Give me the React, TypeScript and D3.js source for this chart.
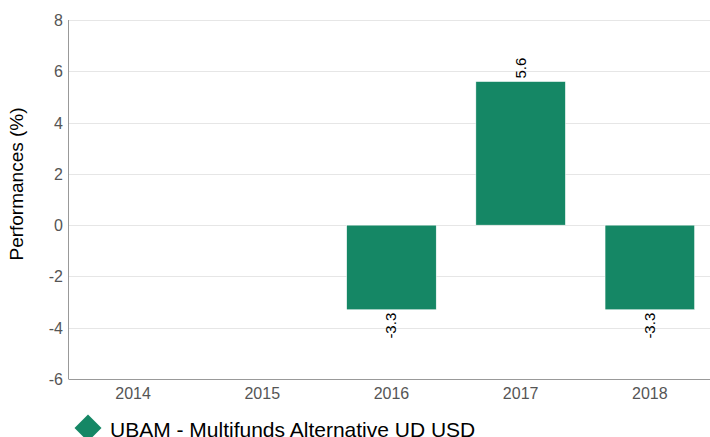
import React from "react";
import * as d3 from "d3";

const categories = ["2014", "2015", "2016", "2017", "2018"];
const values: (number | null)[] = [null, null, -3.3, 5.6, -3.3];
const yTicks = [-6, -4, -2, 0, 2, 4, 6, 8];
const seriesName = "UBAM - Multifunds Alternative UD USD";
const yTitle = "Performances (%)";

const W = 710;
const H = 437;
const left = 68.5;
const right = 714.4;
const top = 20;
const bottom = 379;
const color = "#158765";
const font = "'Liberation Sans', Arial, sans-serif";

export default function App() {
  const x = d3.scaleBand().domain(categories).range([left, right]).paddingInner(0.307).paddingOuter(0.1535);
  const y = d3.scaleLinear().domain([-6, 8]).range([bottom, top]);
  const xc = d3.scaleBand().domain(categories).range([left, right]);

  const mx = 88;
  const my = 428;
  const mr = 13.5;
  const diamond = d3.line()([
    [mx, my - mr],
    [mx + mr, my],
    [mx, my + mr],
    [mx - mr, my],
  ]) + "Z";

  return (
    <svg width={W} height={H} style={{ position: "absolute", left: 0, top: 0, fontFamily: font }}>
      <rect width={W} height={H} fill="#fff" />
      {yTicks.map((t) => (
        <g key={t}>
          {t !== -6 && (
            <line x1={left} x2={W} y1={Math.round(y(t)) + 0.5} y2={Math.round(y(t)) + 0.5} stroke="#e6e6e6" />
          )}
          <text x={63} y={y(t) + 6} textAnchor="end" fontSize={16} fill="#555">
            {t}
          </text>
        </g>
      ))}
      <line x1={left} x2={left} y1={top} y2={bottom} stroke="#999" />
      <line x1={left} x2={W} y1={bottom + 0.5} y2={bottom + 0.5} stroke="#999" />
      {categories.map((c) => (
        <text key={c} x={(xc(c) as number) + xc.bandwidth() / 2} y={bottom + 20} textAnchor="middle" fontSize={16} fill="#555">
          {c}
        </text>
      ))}
      {categories.map((c, i) => {
        const v = values[i];
        if (v === null) return null;
        const x0 = x(c) as number;
        const y0 = Math.min(y(0), y(v));
        const h = Math.abs(y(v) - y(0));
        const cx = x0 + x.bandwidth() / 2;
        const ly = v >= 0 ? y(v) - 3 : y(v) + 3;
        return (
          <g key={c}>
            <rect x={x0} y={y0} width={x.bandwidth()} height={h} fill={color} stroke="#fff" strokeWidth={0.5} />
            <text
              transform={`translate(${cx + 5},${ly}) rotate(-90)`}
              textAnchor={v >= 0 ? "start" : "end"}
              fontSize={15}
              fill="#000"
            >
              {v.toFixed(1)}
            </text>
          </g>
        );
      })}
      <text transform={`translate(23,184) rotate(-90)`} textAnchor="middle" fontSize={19} fill="#000">
        {yTitle}
      </text>
      <path d={diamond} fill={color} />
      <text x={110} y={437} fontSize={21} fill="#000">
        {seriesName}
      </text>
    </svg>
  );
}
